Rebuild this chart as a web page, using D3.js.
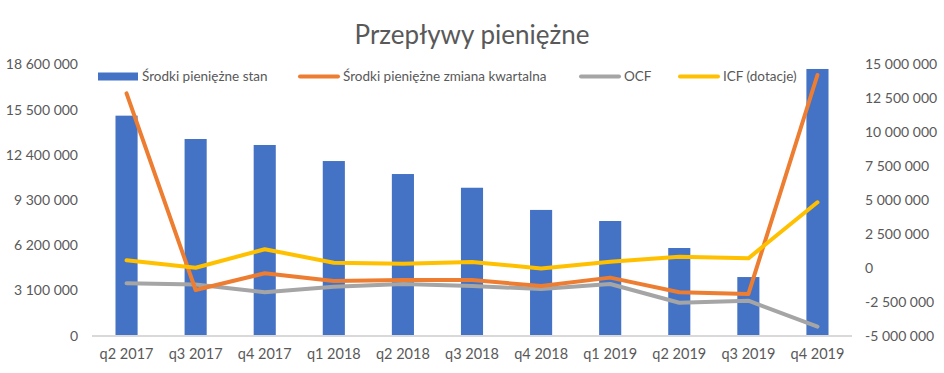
<!DOCTYPE html>
<html><head><meta charset="utf-8">
<script src="https://cdn.jsdelivr.net/npm/d3@7"></script>
<style>body{margin:0;background:#fff}svg{display:block}text{font-family:Lato,"Open Sans",sans-serif;fill:#595959}</style>
</head><body><svg id="c" width="944" height="373"></svg>
<script>
const categories = ["q2 2017","q3 2017","q4 2017","q1 2018","q2 2018","q3 2018","q4 2018","q1 2019","q2 2019","q3 2019","q4 2019"];
const cashBalance = [15080000,13480000,13070000,11970000,11080000,10140000,8620000,7860000,6010000,4020000,18280000];
const cashChange = [12860000,-1630000,-400000,-970000,-900000,-900000,-1340000,-720000,-1800000,-1930000,14210000];
const ocf = [-1140000,-1220000,-1800000,-1390000,-1190000,-1340000,-1560000,-1190000,-2570000,-2420000,-4330000];
const icf = [560000,10000,1370000,380000,310000,430000,-40000,450000,820000,700000,4830000];
const leftTicks = [0,3100000,6200000,9300000,12400000,15500000,18600000];
const rightTicks = [-5000000,-2500000,0,2500000,5000000,7500000,10000000,12500000,15000000];
const seriesNames = ["Środki pieniężne stan","Środki pieniężne zmiana kwartalna","OCF","ICF (dotacje)"];
const colors = ["#4472C4","#ED7D31","#A5A5A5","#FFC000"];
const title = "Przepływy pieniężne";

const svg = d3.select("#c");
const x = d3.scaleBand().domain(categories).range([92,852]).paddingInner(0.68).paddingOuter(0.34);
const yL = d3.scaleLinear().domain([0,18600000]).range([335.7,64.3]);
const yR = d3.scaleLinear().domain([-5000000,15000000]).range([335.7,64.3]);
const fmt = v => d3.format(",")(v).replace(/,/g," ").replace("−","-");

svg.append("text").attr("x",472).attr("y",43.5).attr("text-anchor","middle")
  .style("font-size","26px").text(title);

// bars
svg.append("g").selectAll("rect").data(cashBalance).join("rect")
  .attr("x",(d,i)=>x(categories[i])).attr("width",x.bandwidth())
  .attr("y",d=>yL(d)).attr("height",d=>yL(0)-yL(d)).attr("fill",colors[0]);

// baseline
svg.append("line").attr("x1",92).attr("x2",852).attr("y1",336).attr("y2",336)
  .attr("stroke","#d9d9d9").attr("stroke-width",2);

const cx = c => x(c)+x.bandwidth()/2;
const line = d3.line().x((d,i)=>cx(categories[i])).y(d=>yR(d));
[[ocf,2],[cashChange,1],[icf,3]].forEach(([data,ci])=>{
  svg.append("path").datum(data).attr("d",line).attr("fill","none")
    .attr("stroke",colors[ci]).attr("stroke-width",4)
    .attr("stroke-linejoin","round").attr("stroke-linecap","round");
});

// left axis
const gl = svg.append("g").attr("transform","translate(78,0)")
  .call(d3.axisLeft(yL).tickValues(leftTicks).tickFormat(fmt).tickSize(0).tickPadding(0));
gl.select(".domain").remove();
gl.selectAll("text").style("font-size","14px").style("fill","#595959").style("font-family","Lato");

const gr = svg.append("g").attr("transform","translate(865,0)")
  .call(d3.axisRight(yR).tickValues(rightTicks).tickFormat(fmt).tickSize(0).tickPadding(0));
gr.select(".domain").remove();
gr.selectAll("text").style("font-size","14px").style("fill","#595959").style("font-family","Lato");

const gx = svg.append("g").attr("transform","translate(0,336)")
  .call(d3.axisBottom(x).tickSize(0).tickPadding(13));
gx.select(".domain").remove();
gx.selectAll("text").style("font-size","14.5px").style("fill","#595959").style("font-family","Lato");

// legend
const leg = [
  {sx:98, tx:142, type:"rect"},
  {sx:298, tx:343, type:"line"},
  {sx:579, tx:624, type:"line"},
  {sx:678, tx:723, type:"line"}
];
leg.forEach((l,i)=>{
  if(l.type==="rect") svg.append("rect").attr("x",l.sx).attr("y",72.5).attr("width",40).attr("height",8).attr("fill",colors[i]);
  else svg.append("line").attr("x1",l.sx+2).attr("x2",l.sx+40).attr("y1",76.5).attr("y2",76.5)
    .attr("stroke",colors[i]).attr("stroke-width",4).attr("stroke-linecap","round");
  svg.append("text").attr("x",l.tx).attr("y",76.5).attr("dy","0.35em").style("font-size","13.5px").text(seriesNames[i]);
});
</script></body></html>
